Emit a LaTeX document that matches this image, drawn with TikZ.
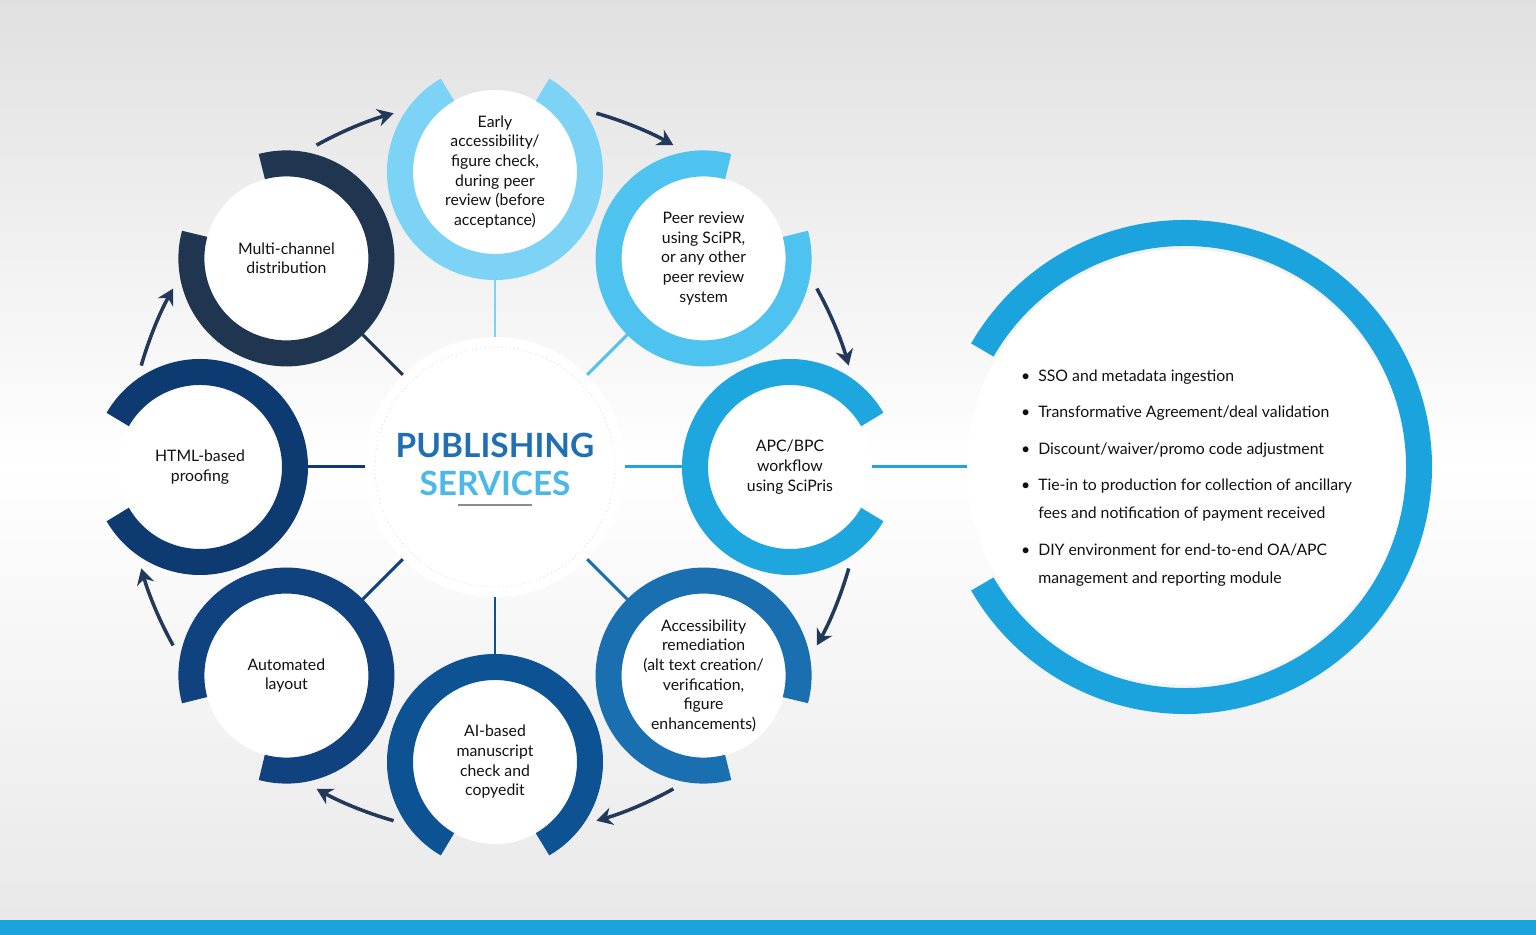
\documentclass[tikz,border=0pt]{standalone}
\usepackage{fontspec}
\setmainfont{Lato}
\usetikzlibrary{arrows.meta}

\definecolor{cTop}{HTML}{7DD3F5}
\definecolor{cPeer}{HTML}{4FC3F0}
\definecolor{cApc}{HTML}{1EA6DE}
\definecolor{cAcc}{HTML}{1A6FB0}
\definecolor{cAi}{HTML}{0D5293}
\definecolor{cAuto}{HTML}{0F427E}
\definecolor{cHtml}{HTML}{0D3A70}
\definecolor{cMulti}{HTML}{1F3550}
\definecolor{cArrow}{HTML}{22395A}
\definecolor{cBig}{HTML}{1AA3DD}
\definecolor{cPub}{HTML}{1F6FB2}
\definecolor{cSer}{HTML}{4AB8EA}
\definecolor{cTxt}{HTML}{111111}

\tikzset{
  sat/.style={circle, fill=white, minimum size=3.28cm, inner sep=0pt,
    align=center, font=\fontsize{9}{11.2}\selectfont, text=cTxt},
  spoke/.style={line width=1.7pt},
  cycle/.style={cArrow, line width=2pt, -{Stealth[length=9pt,width=10pt]}},
}

% ring with an opening towards the outside
\newcommand{\ring}[4]{% node, outward angle, colour, radius
  \draw[#3, line width=0.52cm]
    ([shift={(#2+30:#4)}]#1.center) arc[start angle=#2+30, end angle=#2+330, radius=#4*0.02cm];
}

\begin{document}
\begin{tikzpicture}[x=0.02cm, y=0.02cm]
	\useasboundingbox (-495,-468) rectangle (1041,467);
	% background
	\shade[top color=black!12, bottom color=black!9, middle color=white]
		(-495,-468) rectangle (1041,467);
	\fill[cBig] (-495,-468) rectangle (1041,-453);

	%% HUB
	\node[circle, fill=white, minimum size=5.2cm, inner sep=0pt](hub) at (0,0) {};
	\draw[black!20, dotted] (hub.center) circle[radius=2.4cm];
	\node[font=\bfseries\fontsize{19}{22}\selectfont, text=cPub](pub) at (0,22) {PUBLISHING};
	\node[font=\bfseries\fontsize{19}{22}\selectfont, text=cSer](ser) at (0,-16) {SERVICES};
	\draw[black!45, line width=0.8pt] (-37,-38) -- (37,-38);

	%% SATELLITES
	\node[sat](early) at (90:295){Early\\accessibility/\\figure check,\\during peer\\review (before\\acceptance)};
	\node[sat](peer) at (45:295){Peer review\\using SciPR,\\or any other\\peer review\\system};
	\node[sat](apc) at (0:295){APC/BPC\\workflow\\using SciPris};
	\node[sat](remed) at (-45:295){Accessibility\\remediation\\(alt text creation/\\verification,\\figure\\enhancements)};
	\node[sat](ai) at (-90:295){AI-based\\manuscript\\check and\\copyedit};
	\node[sat](layout) at (-135:295){Automated\\layout};
	\node[sat](html) at (180:295){HTML-based\\proofing};
	\node[sat](multi) at (135:295){Multi-channel\\distribution};

	\ring{early}{90}{cTop}{95}
	\ring{peer}{45}{cPeer}{95}
	\ring{apc}{0}{cApc}{95}
	\ring{remed}{-45}{cAcc}{95}
	\ring{ai}{-90}{cAi}{95}
	\ring{layout}{-135}{cAuto}{95}
	\ring{html}{180}{cHtml}{95}
	\ring{multi}{135}{cMulti}{95}

	% spokes
	\foreach \sname/\ang/\col in {early/90/cTop, peer/45/cPeer, apc/0/cApc, remed/-45/cAcc,
		ai/-90/cAi, layout/-135/cAuto, html/180/cHtml, multi/135/cMulti}{
		\draw[spoke, \col] (hub.\ang) -- ([shift={(\ang+180:108)}]\sname.center);
	}

	% cycle arrows
	\foreach \ang in {135,90,45,0,-45,-90,-135,180}{
		\coordinate (cyc_from) at (\ang-16:368);
		\draw[cycle] (cyc_from) arc[start angle=\ang-16, end angle=\ang-29, radius=7.36cm];
	}

	%% SCIPRIS FEATURES
	\node[circle, fill=white, minimum size=8.72cm, inner sep=0pt](big) at (690,0){};
	\ring{big}{180}{cBig}{234}
	\draw[cApc, spoke] (apc.east) -- (big.west);
	\node[anchor=west, align=left, font=\fontsize{9}{16}\selectfont, text=cTxt](feat) at (520,-11){%
		\textbullet\enspace SSO and metadata ingestion\\[4.8pt]
		\textbullet\enspace Transformative Agreement/deal validation\\[4.8pt]
		\textbullet\enspace Discount/waiver/promo code adjustment\\[4.8pt]
		\textbullet\enspace Tie-in to production for collection of ancillary\\
		\phantom{\textbullet}\enspace fees and notification of payment received\\[4.8pt]
		\textbullet\enspace DIY environment for end-to-end OA/APC\\
		\phantom{\textbullet}\enspace management and reporting module};
\end{tikzpicture}
\end{document}
